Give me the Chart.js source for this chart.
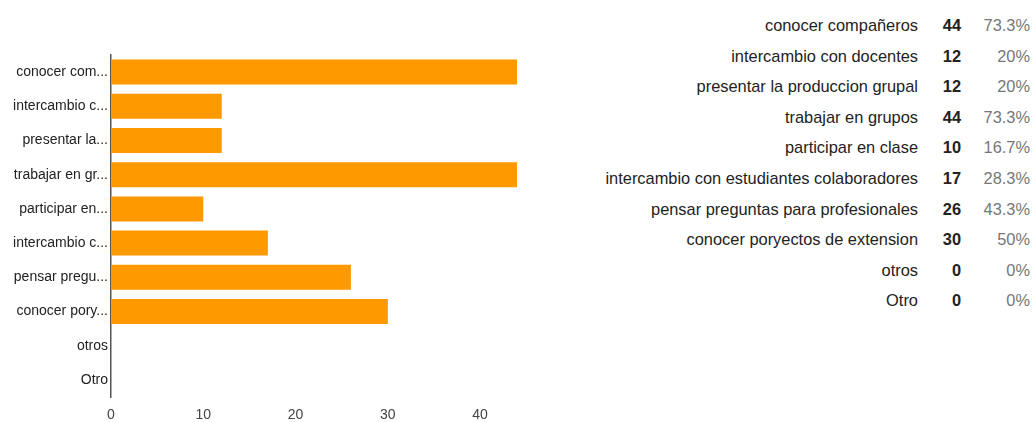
<!DOCTYPE html>
<html>
<head>
<meta charset="utf-8">
<script src="https://cdn.jsdelivr.net/npm/chart.js@4/dist/chart.umd.min.js"></script>
<style>
  html, body { margin: 0; padding: 0; background: #fff; }
  body { width: 1032px; height: 422px; position: relative; overflow: hidden; font-family: "Liberation Sans", Arial, sans-serif; }
  #wrap { position: absolute; left: 0; top: 0; width: 560px; height: 422px; }
  #summary { position: absolute; left: 560px; top: 10px; width: 472px; }
  .row { height: 30.6px; line-height: 30.6px; font-size: 16.4px; position: relative; white-space: nowrap; }
  .row span { position: absolute; top: 0; }
  .lbl { right: 114px; color: #222; }
  .cnt { right: 71px; color: #222; font-weight: bold; }
  .pct { right: 2px; color: #777; }
</style>
</head>
<body>
<div id="wrap"><canvas id="chart"></canvas></div>
<div id="summary"></div>
<script>
const categories = [
  'conocer compañeros', 'intercambio con docentes', 'presentar la produccion grupal',
  'trabajar en grupos', 'participar en clase', 'intercambio con estudiantes colaboradores',
  'pensar preguntas para profesionales', 'conocer poryectos de extension', 'otros', 'Otro',
];
const axisLabels = [
  'conocer com...', 'intercambio c...', 'presentar la...', 'trabajar en gr...', 'participar en...',
  'intercambio c...', 'pensar pregu...', 'conocer pory...', 'otros', 'Otro',
];
const counts = [44, 12, 12, 44, 10, 17, 26, 30, 0, 0];
const percents = ['73.3%', '20%', '20%', '73.3%', '16.7%', '28.3%', '43.3%', '50%', '0%', '0%'];
const xTicks = [0, 10, 20, 30, 40];

// summary table on the right
document.getElementById('summary').innerHTML = categories.map((c, i) =>
  `<div class="row"><span class="lbl">${c}</span><span class="cnt">${counts[i]}</span><span class="pct">${percents[i]}</span></div>`
).join('');

const font = { family: '"Liberation Sans", Arial, sans-serif', size: 14 };

new Chart(document.getElementById('chart'), {
  type: 'bar',
  data: {
    labels: axisLabels,
    datasets: [{
      data: counts,
      backgroundColor: '#ff9900',
      borderWidth: 0,
      categoryPercentage: 1,
      barPercentage: 0.73,
    }],
  },
  options: {
    indexAxis: 'y',
    responsive: true,
    maintainAspectRatio: false,
    animation: false,
    layout: { padding: { top: 55, right: 43, left: 0, bottom: 0 } },
    plugins: { legend: { display: false }, tooltip: { enabled: false } },
    scales: {
      x: {
        min: 0, max: 44,
        grid: { display: false, drawTicks: false },
        border: { display: false },
        afterBuildTicks: axis => { axis.ticks = xTicks.map(v => ({ value: v })); },
        afterFit: axis => { axis.height = 25; },
        ticks: { color: '#444', font, padding: 10, maxRotation: 0, autoSkip: false },
      },
      y: {
        grid: { display: false, drawTicks: false },
        border: { display: true, color: '#555', width: 1.5 },
        afterFit: axis => { axis.width = 111; },
        ticks: { color: '#222', font, padding: 3, autoSkip: false },
      },
    },
  },
});
</script>
</body>
</html>
